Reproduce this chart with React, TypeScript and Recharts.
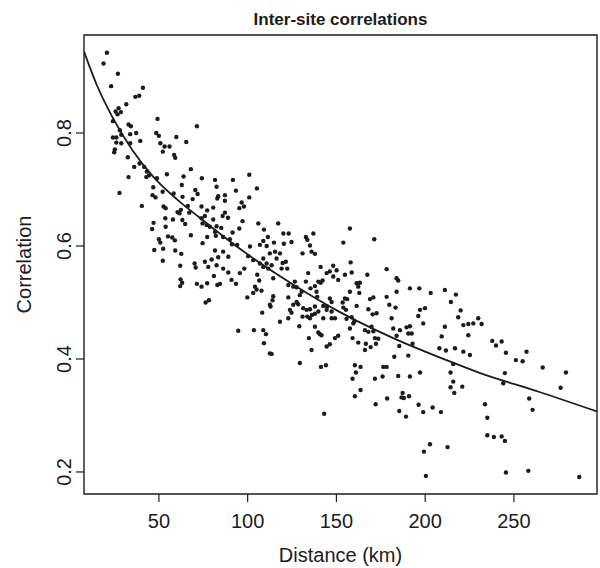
import { ScatterChart, Scatter, XAxis, YAxis, ReferenceArea } from 'recharts'

// pairwise site distance (km) and correlation
const distanceKm = [
  // < 75 km, upper band
  20.7, 18.8, 26.9, 23.1, 41.0, 36.7, 38.9, 31.6, 27.3, 25.6,
  28.6, 26.7, 49.2, 24.1, 32.9, 34.2, 71.4, 28.0, 37.2, 48.5,
  50.0, 59.8, 24.1, 26.0, 28.8, 33.8, 39.5, 26.0, 28.8, 33.8,
  65.4, 50.8, 53.2, 56.0, 25.2, 52.2, 24.8, 32.5, 58.6, 59.2,
  39.1, 36.1, 41.7, 43.2, 44.4, 42.9, 48.9, 54.5, 68.0, 63.9,
  32.9,
  // < 75 km, lower band
  27.8, 46.8, 62.9, 52.1, 46.4, 48.1, 58.3, 63.3, 70.5, 71.8,
  69.0, 40.4, 52.6, 53.8, 66.3, 60.5, 62.4, 61.6, 67.1, 53.6,
  57.9, 63.2, 64.8, 47.0, 46.2, 53.8, 68.0, 50.0, 50.8, 55.1,
  57.5, 59.0, 47.4, 52.4, 59.2, 62.6, 52.2, 62.0, 70.1, 70.7,
  62.2, 63.1, 62.0, 71.4,
  // 75-150 km, upper
  100.9, 81.6, 91.7, 74.2, 82.5, 93.4, 105.2, 83.4, 87.2, 82.9,
  87.2, 100.9, 96.6, 95.3, 97.9, 80.6, 74.0, 77.2, 87.2, 85.9,
  88.9, 75.9, 74.0, 80.6, 97.1, 74.6, 76.9, 78.7, 82.5, 85.1,
  95.3, 106.0, 117.2, 109.2, 81.6, 77.2, 82.1, 86.2, 91.5, 90.0,
  111.4, 108.8, 120.1, 123.1, 132.8, 137.0, 133.6, 91.1, 94.1, 101.3,
  106.9, 110.7, 114.8, 120.4, 124.7, 135.1, 74.6,
  // 75-150 km, lower
  81.6, 86.2, 89.1, 75.9, 79.7, 83.4, 77.8, 82.5, 86.2, 81.0,
  89.1, 74.0, 77.2, 82.9, 84.4, 90.9, 93.4, 95.6, 98.1, 100.3,
  103.1, 108.8, 112.5, 115.4, 118.2, 116.3, 113.5, 110.7, 111.6, 108.8,
  106.9, 105.4, 106.5, 114.4, 119.1, 122.3, 121.5, 119.7, 130.9, 136.0,
  137.9, 141.1, 144.5, 146.3, 148.2, 150.1, 148.2, 151.0, 134.1, 132.8,
  135.4, 137.9, 139.8, 141.1, 142.2, 122.9, 125.7, 127.6, 126.6, 130.4,
  138.8, 139.2, 146.3, 147.3, 144.8, 129.4, 122.9, 114.4, 114.0, 112.5,
  112.9, 103.1, 105.0, 107.8, 99.8, 104.1, 76.3, 78.2, 127.6, 125.7,
  128.5, 123.8, 124.7, 122.9, 131.3, 133.2, 135.1, 137.9, 139.8, 142.6,
  144.5, 147.3, 133.6, 135.1, 136.2, 137.9, 130.9, 142.6, 147.3, 149.2,
  118.2, 108.2, 129.1, 137.9, 140.7, 141.6, 139.8, 94.7, 103.5, 108.8,
  110.3, 109.2, 134.5, 149.2, 151.0, 144.5, 146.3, 136.0, 112.5, 113.5,
  129.4, 141.3, 144.1, 143.1,
  // 150-230 km, upper
  157.6, 153.9, 171.3, 158.0, 158.6, 154.8, 167.4, 178.3, 183.9, 184.8,
  161.4, 163.2, 162.3, 191.4, 196.7, 203.1, 211.1, 217.3, 214.5, 183.9,
  157.6, 162.9, 154.8, 156.1, 168.9, 170.8, 178.3, 179.8, 183.3, 153.5,
  153.9, 155.4, 161.4, 168.0, 170.4, 172.6, 197.1, 199.9, 196.1, 198.9,
  220.0, 218.6, 224.3, 221.5, 227.1, 229.9, 155.7, 158.6, 160.1, 181.1,
  157.6, 159.5, 169.8, 166.1, 168.0, 170.8, 182.0, 185.8, 189.5, 191.4,
  190.5, 192.4, 211.1, 209.3, 224.3, 159.1, 162.3, 166.6, 169.3, 171.7,
  173.6, 172.3, 183.9, 185.4, 192.9, 166.1, 208.0, 211.7, 216.8, 221.5,
  225.2, 182.6, 190.5,
  // 150-230 km, lower
  160.4, 163.6, 176.4, 178.3, 161.0, 159.1, 171.7, 176.0, 184.8, 191.4,
  197.1, 215.8, 214.3, 215.8, 214.3, 216.4, 220.9, 163.6, 160.4, 172.1,
  178.6, 187.3, 186.7, 188.0, 190.9, 196.3, 198.9, 204.2, 208.9, 185.4,
  189.2, 202.7, 199.3, 212.6, 200.4,
  // > 230 km
  231.8, 237.8, 239.9, 243.1, 245.5, 251.1, 254.9, 257.1, 266.2, 279.3,
  244.9, 244.0, 276.3, 258.6, 260.5, 233.7, 235.0, 235.0, 238.7, 243.1,
  244.9, 245.5, 258.1, 286.8,
]

const correlation = [
  0.942, 0.923, 0.905, 0.883, 0.880, 0.864, 0.866, 0.851, 0.844, 0.838,
  0.837, 0.833, 0.825, 0.821, 0.815, 0.812, 0.812, 0.805, 0.800, 0.800,
  0.795, 0.793, 0.792, 0.792, 0.797, 0.798, 0.786, 0.783, 0.782, 0.782,
  0.784, 0.782, 0.776, 0.776, 0.771, 0.767, 0.766, 0.757, 0.761, 0.756,
  0.746, 0.740, 0.740, 0.732, 0.725, 0.722, 0.720, 0.727, 0.736, 0.723,
  0.722,

  0.694, 0.704, 0.708, 0.696, 0.690, 0.686, 0.693, 0.687, 0.699, 0.692,
  0.683, 0.671, 0.670, 0.667, 0.671, 0.660, 0.664, 0.658, 0.659, 0.649,
  0.647, 0.646, 0.639, 0.641, 0.630, 0.634, 0.619, 0.612, 0.606, 0.617,
  0.615, 0.610, 0.593, 0.595, 0.592, 0.586, 0.574, 0.565, 0.569, 0.562,
  0.541, 0.535, 0.529, 0.533,

  0.726, 0.717, 0.717, 0.720, 0.705, 0.698, 0.702, 0.688, 0.690, 0.684,
  0.680, 0.686, 0.677, 0.667, 0.670, 0.668, 0.670, 0.663, 0.659, 0.653,
  0.650, 0.653, 0.649, 0.647, 0.644, 0.640, 0.637, 0.634, 0.635, 0.632,
  0.631, 0.640, 0.640, 0.629, 0.625, 0.616, 0.618, 0.616, 0.624, 0.612,
  0.616, 0.609, 0.622, 0.622, 0.616, 0.622, 0.611, 0.603, 0.602, 0.599,
  0.602, 0.600, 0.606, 0.604, 0.607, 0.601, 0.605,

  0.592, 0.590, 0.581, 0.572, 0.576, 0.580, 0.563, 0.566, 0.560, 0.547,
  0.553, 0.528, 0.534, 0.531, 0.533, 0.540, 0.533, 0.552, 0.560, 0.582,
  0.575, 0.578, 0.587, 0.590, 0.587, 0.578, 0.566, 0.569, 0.560, 0.563,
  0.569, 0.549, 0.539, 0.543, 0.560, 0.560, 0.572, 0.570, 0.587, 0.590,
  0.586, 0.563, 0.552, 0.555, 0.565, 0.557, 0.546, 0.540, 0.552, 0.537,
  0.525, 0.529, 0.537, 0.535, 0.539, 0.531, 0.528, 0.527, 0.537, 0.519,
  0.519, 0.510, 0.507, 0.501, 0.493, 0.513, 0.509, 0.511, 0.504, 0.496,
  0.493, 0.517, 0.523, 0.521, 0.509, 0.528, 0.500, 0.504, 0.501, 0.496,
  0.497, 0.487, 0.482, 0.472, 0.490, 0.487, 0.488, 0.493, 0.484, 0.494,
  0.487, 0.484, 0.475, 0.472, 0.478, 0.480, 0.475, 0.472, 0.472, 0.472,
  0.466, 0.482, 0.458, 0.457, 0.444, 0.442, 0.447, 0.450, 0.451, 0.451,
  0.444, 0.428, 0.437, 0.437, 0.441, 0.422, 0.426, 0.416, 0.410, 0.409,
  0.393, 0.386, 0.389, 0.303,

  0.631, 0.606, 0.612, 0.571, 0.553, 0.549, 0.549, 0.559, 0.543, 0.539,
  0.534, 0.535, 0.528, 0.525, 0.525, 0.517, 0.522, 0.514, 0.501, 0.519,
  0.519, 0.517, 0.507, 0.506, 0.506, 0.509, 0.510, 0.496, 0.491, 0.500,
  0.491, 0.487, 0.494, 0.488, 0.479, 0.481, 0.487, 0.490, 0.476, 0.463,
  0.486, 0.474, 0.462, 0.460, 0.463, 0.472, 0.471, 0.474, 0.467, 0.472,
  0.454, 0.463, 0.457, 0.451, 0.448, 0.449, 0.454, 0.451, 0.456, 0.458,
  0.445, 0.445, 0.457, 0.440, 0.442, 0.437, 0.429, 0.427, 0.421, 0.437,
  0.436, 0.427, 0.441, 0.423, 0.427, 0.416, 0.419, 0.415, 0.419, 0.413,
  0.407, 0.404, 0.406,

  0.389, 0.386, 0.386, 0.386, 0.376, 0.365, 0.365, 0.369, 0.370, 0.369,
  0.376, 0.391, 0.376, 0.360, 0.350, 0.340, 0.351, 0.345, 0.334, 0.320,
  0.330, 0.340, 0.332, 0.331, 0.334, 0.319, 0.306, 0.314, 0.306, 0.308,
  0.298, 0.249, 0.236, 0.244, 0.193,

  0.462, 0.432, 0.424, 0.431, 0.411, 0.398, 0.396, 0.413, 0.385, 0.376,
  0.375, 0.357, 0.349, 0.330, 0.310, 0.320, 0.296, 0.265, 0.262, 0.263,
  0.255, 0.199, 0.202, 0.191,
]

// fitted decay curve, read at a few distances
const fitDistance = [7.8, 15, 23.5, 35, 47, 60, 73, 95.6, 124, 152, 182, 212, 231, 264, 296.8]
const fitCorrelation = [0.944, 0.885, 0.83, 0.77, 0.722, 0.683, 0.65, 0.595, 0.535, 0.483, 0.437, 0.398, 0.375, 0.342, 0.307]

const xTicks = [50, 100, 150, 200, 250]
const yTicks = [0.2, 0.4, 0.6, 0.8]
const xDomain: [number, number] = [7.8, 296.8]
const yDomain: [number, number] = [0.161, 0.9735]

const INK = '#1c1c1c'
const FONT = '"Liberation Sans", Arial, Helvetica, sans-serif'

const points = distanceKm.map((d, i) => ({ distance: d, correlation: correlation[i] }))
const fit = fitDistance.map((d, i) => ({ distance: d, correlation: fitCorrelation[i] }))

function YTick({ x, y, payload }: any) {
  const bx = x - 3
  return (
    <text
      x={bx}
      y={y}
      transform={`rotate(-90, ${bx}, ${y})`}
      textAnchor="middle"
      fontSize={20}
      fill={INK}
      fontFamily={FONT}
    >
      {Number(payload.value).toFixed(1)}
    </text>
  )
}

function Dot(props: any) {
  if (props.cx == null || props.cy == null) return <g />
  return <circle cx={props.cx} cy={props.cy} r={2.2} fill={INK} />
}

export default function App() {
  return (
    <div style={{ position: 'absolute', left: 0, top: 0, width: 600, height: 568, background: '#fff', fontFamily: FONT }}>
      <ScatterChart width={600} height={568} margin={{ top: 35, right: 3, bottom: 0, left: 0 }}>
        <XAxis
          type="number"
          dataKey="distance"
          domain={xDomain}
          ticks={xTicks}
          interval={0}
          allowDataOverflow
          axisLine={false}
          tickLine={{ stroke: INK, strokeWidth: 1.2 }}
          tickSize={8}
          tickMargin={12}
          tick={{ fontSize: 20, fill: INK, fontFamily: FONT }}
          height={74}
          label={{ value: 'Distance (km)', position: 'insideBottom', offset: 6, fontSize: 20, fill: INK, fontFamily: FONT }}
        />
        <YAxis
          type="number"
          dataKey="correlation"
          domain={yDomain}
          ticks={yTicks}
          interval={0}
          allowDataOverflow
          axisLine={false}
          tickLine={{ stroke: INK, strokeWidth: 1.2 }}
          tickSize={8}
          width={84}
          tick={(p: any) => <YTick {...p} />}
          label={{
            content: ({ viewBox }: any) => {
              const cy = viewBox.y + viewBox.height / 2
              return (
                <text x={31} y={cy} transform={`rotate(-90, 31, ${cy})`} textAnchor="middle" fontSize={20} fill={INK} fontFamily={FONT}>
                  Correlation
                </text>
              )
            },
          }}
        />
        <ReferenceArea
          x1={xDomain[0]}
          x2={xDomain[1]}
          y1={yDomain[0]}
          y2={yDomain[1]}
          fill="none"
          stroke={INK}
          strokeWidth={1.4}
          label={{
            content: ({ viewBox }: any) => (
              <text
                x={viewBox.x + viewBox.width / 2}
                y={viewBox.y - 10}
                textAnchor="middle"
                fontSize={17}
                fontWeight="bold"
                fill={INK}
                fontFamily={FONT}
              >
                Inter-site correlations
              </text>
            ),
          }}
        />
        <Scatter data={points} shape={<Dot />} isAnimationActive={false} />
        <Scatter
          data={fit}
          shape={() => <g />}
          line={{ stroke: INK, strokeWidth: 1.8 }}
          lineJointType="monotoneX"
          isAnimationActive={false}
        />
      </ScatterChart>
    </div>
  )
}
